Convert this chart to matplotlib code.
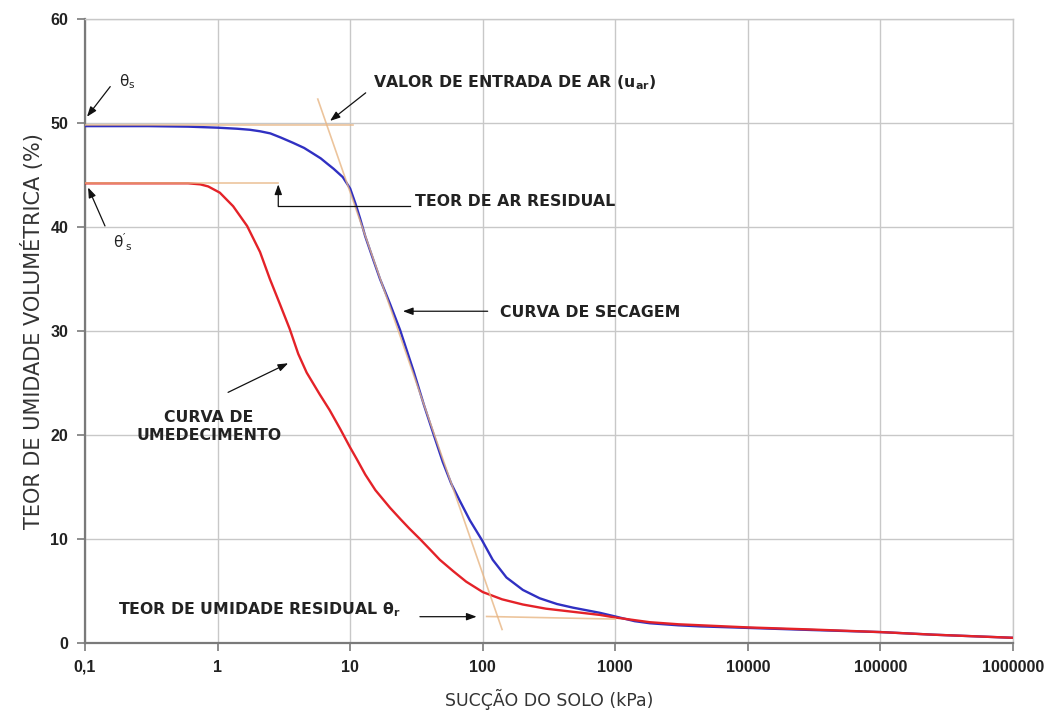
import matplotlib
matplotlib.use("Agg")
import matplotlib.pyplot as plt

plt.rcParams['font.family'] = ['DejaVu Sans']
plt.rcParams['mathtext.fontset'] = 'dejavusans'

# ---- data ----
x_ticks = [0.1, 1, 10, 100, 1000, 10000, 100000, 1000000]
x_tick_labels = ["0,1", "1", "10", "100", "1000", "10000", "100000", "1000000"]
y_ticks = [0, 10, 20, 30, 40, 50, 60]

# drying curve (curva de secagem)
dry_x = [0.1, 0.3, 0.6, 1.0, 1.4, 1.75, 2.1, 2.5, 3.0, 3.7, 4.5, 5.2, 6.0, 6.7,
         7.5, 8.8, 10, 11, 11.9, 13, 14.9, 16.8, 20, 23.8, 30, 36, 42, 50, 58,
         67, 80, 98.6, 119, 151, 201, 269, 363, 479, 766, 1000, 1400, 1820,
         3000, 4340, 10000, 30000, 100000, 250000, 1000000]
dry_y = [49.7, 49.7, 49.65, 49.55, 49.45, 49.35, 49.2, 49.0, 48.6, 48.1, 47.6,
         47.1, 46.6, 46.1, 45.6, 44.8, 43.7, 42.2, 40.8, 39.1, 36.9, 35.0, 32.6,
         30.1, 26.2, 22.9, 20.3, 17.4, 15.3, 13.7, 11.8, 9.9, 8.0, 6.3, 5.1, 4.3,
         3.75, 3.4, 2.9, 2.55, 2.1, 1.9, 1.7, 1.6, 1.45, 1.25, 1.05, 0.8, 0.5]

# wetting curve (curva de umedecimento)
wet_x = [0.1, 0.3, 0.6, 0.74, 0.85, 1.04, 1.31, 1.67, 2.09, 2.48, 2.95, 3.5,
         4.06, 4.7, 5.9, 7.0, 8.4, 10, 11.2, 13, 15.5, 20, 24, 28, 33.6, 40,
         47.5, 60, 75, 100, 140, 201, 300, 479, 766, 1000, 1820, 3000, 10000,
         30000, 100000, 250000, 1000000]
wet_y = [44.2, 44.2, 44.2, 44.1, 43.9, 43.3, 42.0, 40.1, 37.6, 35.0, 32.6, 30.2,
         27.8, 26.0, 23.9, 22.4, 20.6, 18.8, 17.7, 16.2, 14.7, 13.0, 11.9, 11.0,
         10.0, 9.0, 8.0, 6.9, 5.9, 4.9, 4.2, 3.7, 3.3, 3.0, 2.7, 2.45, 2.0, 1.8,
         1.5, 1.3, 1.05, 0.8, 0.5]

# construction (tangent) lines
sat_line_x = [0.1, 10.5]
sat_line_y = [49.8, 49.8]
air_line_x = [0.1, 2.87]
air_line_y = [44.2, 44.2]
tangent_x = [5.7, 140]
tangent_y = [52.3, 1.3]
resid_line_x = [107, 1000]
resid_line_y = [2.55, 2.3]

# ---- figure ----
fig = plt.figure(figsize=(10.56, 7.19), dpi=100)
ax = fig.add_axes([85/1056, 1-643/719, (1013-85)/1056, (643-19)/719])
ax.set_xscale('log')
ax.set_xlim(0.1, 1e6)
ax.set_ylim(0, 60)

ax.grid(True, which='major', color='#c8c8c8', linewidth=1.0)
ax.minorticks_off()
ax.set_axisbelow(True)

blue = '#3030c2'
red = '#e42228'
tan = '#e8b684'

ax.plot(dry_x, dry_y, color=blue, lw=1.7, zorder=3, solid_joinstyle='round')
ax.plot(wet_x, wet_y, color=red, lw=1.7, zorder=3, solid_joinstyle='round')
for lx, ly in [(sat_line_x, sat_line_y), (air_line_x, air_line_y),
               (tangent_x, tangent_y), (resid_line_x, resid_line_y)]:
    ax.plot(lx, ly, color=tan, lw=1.2, alpha=0.8, zorder=4)

ax.set_xticks(x_ticks)
ax.set_xticklabels(x_tick_labels)
ax.set_yticks(y_ticks)
ax.tick_params(axis='both', direction='out', length=6, width=1.2, color='#7a7a7a',
               labelsize=11.5, pad=6)
for lab in ax.get_xticklabels() + ax.get_yticklabels():
    lab.set_fontweight('bold')
    lab.set_color('#222222')
    lab.set_fontfamily(['Liberation Sans', 'DejaVu Sans'])

for side in ['top', 'right']:
    ax.spines[side].set_color('#c8c8c8')
    ax.spines[side].set_linewidth(1.0)
for side in ['left', 'bottom']:
    ax.spines[side].set_color('#7a7a7a')
    ax.spines[side].set_linewidth(1.6)

ax.set_xlabel("SUCÇÃO DO SOLO (kPa)", fontsize=12.5, color='#333333', labelpad=10)
ax.set_ylabel("TEOR DE UMIDADE VOLUMÉTRICA (%)", fontsize=15, color='#333333',
              labelpad=5)

txt = dict(fontsize=11.3, fontweight='bold', color='#222222')
arr = dict(arrowstyle='-|>,head_length=0.6,head_width=0.22', color='#111111', lw=0.9,
           shrinkA=0, shrinkB=0)

# theta_s
ax.text(0.207, 54.0, r"$\mathregular{\theta_s}$", ha='center', va='center',
        fontsize=11, color='#222222')
ax.annotate("", xy=(0.1035, 50.6), xytext=(0.155, 53.5), arrowprops=arr, zorder=5)
# theta'_s
ax.text(0.194, 38.5, r"$\mathregular{\theta'_s}$", ha='center', va='center',
        fontsize=11, color='#222222')
ax.annotate("", xy=(0.1055, 43.8), xytext=(0.1415, 40.1), arrowprops=arr, zorder=5)

# air entry value
ax.text(14.9, 53.9, r"VALOR DE ENTRADA DE AR (u$_{\mathregular{ar}}$)", ha='left',
        va='center', **txt)
ax.annotate("", xy=(7.05, 50.2), xytext=(13.1, 52.9), arrowprops=arr, zorder=5)

# residual air content
ax.text(30.8, 42.5, "TEOR DE AR RESIDUAL", ha='left', va='center', **txt)
ax.plot([28.2, 2.87], [42.0, 42.0], color='#111111', lw=0.9, zorder=5)
ax.annotate("", xy=(2.87, 44.1), xytext=(2.87, 42.0), arrowprops=arr, zorder=5)

# drying curve label
ax.text(135, 31.75, "CURVA DE SECAGEM", ha='left', va='center', **txt)
ax.annotate("", xy=(25, 31.9), xytext=(109, 31.9), arrowprops=arr, zorder=5)

# wetting curve label
ax.text(0.86, 20.8, "CURVA DE\nUMEDECIMENTO", ha='center', va='center',
        linespacing=1.3, **txt)
ax.annotate("", xy=(3.41, 26.9), xytext=(1.2, 24.1), arrowprops=arr, zorder=5)

# residual water content
ax.text(0.177, 3.2, r"TEOR DE UMIDADE RESIDUAL $\mathregular{\theta_r}$", ha='left',
        va='center', **txt)
ax.annotate("", xy=(90, 2.53), xytext=(33.6, 2.53), arrowprops=arr, zorder=5)

fig.savefig("out.png", dpi=100, facecolor='white')
